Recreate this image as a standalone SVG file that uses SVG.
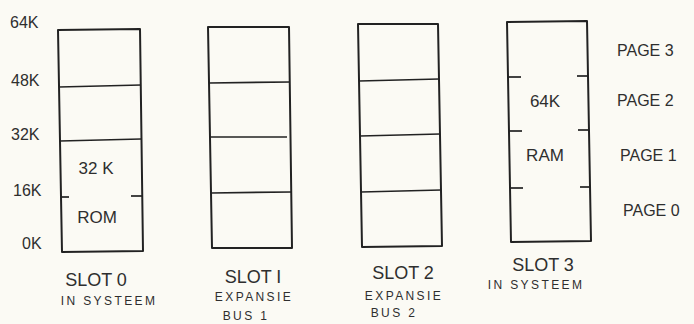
<svg xmlns="http://www.w3.org/2000/svg" width="694" height="324" viewBox="0 0 694 324">
<style>
.bg{fill:#fbfaf4}
.box{fill:none;stroke:#222;stroke-width:2;stroke-linejoin:round}
.ln{stroke:#222;stroke-width:1.7}
text{font-family:"Liberation Sans Narrow","Liberation Sans",sans-serif;fill:#2e2e2e}
.k{font-size:16px}
.big{font-size:18px;text-anchor:middle}
.sm{font-size:12px;letter-spacing:2.4px;text-anchor:middle}
.in{font-size:17px;text-anchor:middle}
.pg{font-size:16px}
</style>
<rect class="bg" width="694" height="324"/>
<g id="axis">
<text class="k" x="10" y="28">64K</text>
<text class="k" x="11" y="86">48K</text>
<text class="k" x="11" y="140">32K</text>
<text class="k" x="13" y="196">16K</text>
<text class="k" x="22" y="249">0K</text>
</g>
<g id="slot0">
<path class="box" d="M58 30 L140 29 L143 251 L62 252 Z"/>
<line class="ln" x1="59" y1="87" x2="141" y2="85"/>
<line class="ln" x1="60" y1="141" x2="141" y2="139"/>
<line class="ln" x1="61" y1="197" x2="69" y2="197"/>
<line class="ln" x1="131" y1="196" x2="142" y2="196"/>
<text class="in" x="96" y="174">32 K</text>
<text class="in" x="97" y="223">ROM</text>
<text class="big" x="96" y="286">SLOT 0</text>
<text class="sm" x="109" y="305">IN SYSTEEM</text>
</g>
<g id="slot1">
<path class="box" d="M208 27 L289 27 L292 248 L212 248 Z"/>
<line class="ln" x1="209" y1="83" x2="290" y2="82"/>
<line class="ln" x1="210" y1="137" x2="287" y2="137"/>
<line class="ln" x1="211" y1="193" x2="291" y2="192"/>
<text class="big" x="253" y="283">SLOT I</text>
<text class="sm" x="254" y="301">EXPANSIE</text>
<text class="sm" x="246" y="320">BUS 1</text>
</g>
<g id="slot2">
<path class="box" d="M358 24 L438 24 L442 246 L362 247 Z"/>
<line class="ln" x1="359" y1="81" x2="439" y2="79"/>
<line class="ln" x1="360" y1="136" x2="440" y2="134"/>
<line class="ln" x1="361" y1="192" x2="441" y2="190"/>
<text class="big" x="403" y="279">SLOT 2</text>
<text class="sm" x="404" y="300">EXPANSIE</text>
<text class="sm" x="394" y="317">BUS 2</text>
</g>
<g id="slot3">
<path class="box" d="M507 22 L587 21 L591 241 L511 242 Z"/>
<line class="ln" x1="508" y1="77" x2="521" y2="77"/>
<line class="ln" x1="577" y1="76" x2="588" y2="76"/>
<line class="ln" x1="509" y1="131" x2="522" y2="131"/>
<line class="ln" x1="578" y1="130" x2="589" y2="130"/>
<line class="ln" x1="510" y1="188" x2="523" y2="188"/>
<line class="ln" x1="580" y1="187" x2="590" y2="187"/>
<text class="in" x="545" y="107">64K</text>
<text class="in" x="545" y="161">RAM</text>
<text class="big" x="543" y="271">SLOT 3</text>
<text class="sm" x="536" y="289">IN SYSTEEM</text>
</g>
<g id="pages">
<text class="pg" x="617" y="56">PAGE 3</text>
<text class="pg" x="617" y="106">PAGE 2</text>
<text class="pg" x="620" y="161">PAGE 1</text>
<text class="pg" x="623" y="216">PAGE 0</text>
</g>
</svg>
